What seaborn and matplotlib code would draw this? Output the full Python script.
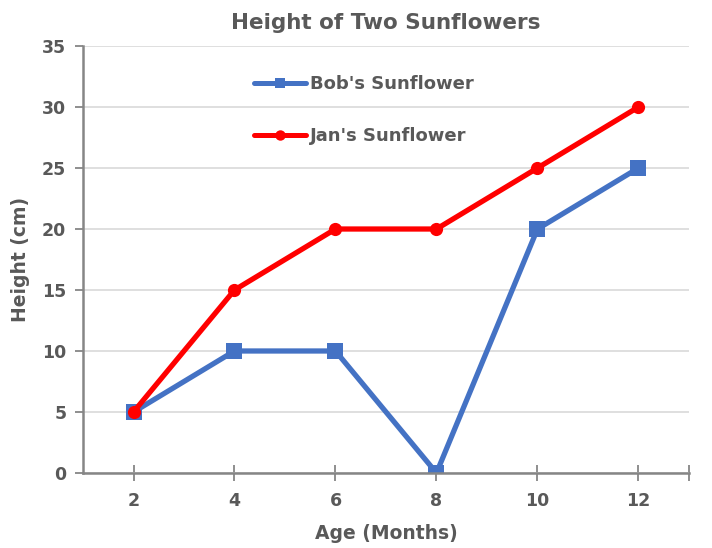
import numpy as np
import pandas as pd
import matplotlib
matplotlib.use("Agg")
import matplotlib.pyplot as plt
import seaborn as sns

# Data
ages = [2, 4, 6, 8, 10, 12]
bob_height = [5, 10, 10, 0, 20, 25]
jan_height = [5, 15, 20, 20, 25, 30]
series_names = ["Bob's Sunflower", "Jan's Sunflower"]

TEXT_GRAY = "#595959"
AXIS_GRAY = "#868686"

df = pd.DataFrame({
    "Age": ages * 2,
    "Height": bob_height + jan_height,
    "Plant": [series_names[0]] * len(ages) + [series_names[1]] * len(ages),
})

sns.set_theme(style="white")
plt.rcParams['font.family'] = ['DejaVu Sans']

fig = plt.figure(figsize=(7.12, 5.48), dpi=100)
ax = fig.add_axes([0.1166, 0.1369, 0.851, 0.7791])

sns.lineplot(
    data=df, x="Age", y="Height", hue="Plant", style="Plant",
    palette={series_names[0]: "#4472C4", series_names[1]: "#FF0000"},
    markers={series_names[0]: "s", series_names[1]: "o"},
    dashes=False, linewidth=3.8, markersize=10, markeredgewidth=0,
    ax=ax, legend=True,
)
# square markers a bit bigger than the circles
for line in ax.lines:
    if line.get_marker() == "s":
        line.set_markersize(11)
    elif line.get_marker() == "o":
        line.set_markersize(9.5)

ax.set_xlim(1, 13)
ax.set_ylim(0, 35)
ax.set_xticks(ages)
ax.set_xticklabels([str(a) for a in ages])
ax.set_xticks([13], minor=True)
ax.set_yticks(np.arange(0, 36, 5))
ax.yaxis.grid(True, color="#d9d9d9", linewidth=1.2)
ax.set_axisbelow(True)

for side in ["top", "right"]:
    ax.spines[side].set_visible(False)
for side in ["left", "bottom"]:
    ax.spines[side].set_color(AXIS_GRAY)
    ax.spines[side].set_linewidth(1.8)

ax.tick_params(axis="x", which="both", direction="inout", length=12, width=1.3,
               color=AXIS_GRAY, labelcolor=TEXT_GRAY, labelsize=12.5, pad=8, bottom=True)
ax.tick_params(axis="y", direction="out", length=6, width=1.3, color=AXIS_GRAY,
               labelcolor=TEXT_GRAY, labelsize=12.5, pad=6, left=True)
for lab in ax.get_xticklabels() + ax.get_yticklabels():
    lab.set_fontweight("bold")

ax.set_title("Height of Two Sunflowers", fontsize=15.5, fontweight="bold",
             color=TEXT_GRAY, pad=12)
ax.set_xlabel("Age (Months)", fontsize=13.5, fontweight="bold", color=TEXT_GRAY, labelpad=10)
ax.set_ylabel("Height (cm)", fontsize=13.5, fontweight="bold", color=TEXT_GRAY, labelpad=9)

leg = ax.legend(loc="upper left", bbox_to_anchor=(0.255, 0.97), frameon=False,
                labelspacing=1.9, handlelength=2.9, handletextpad=0.2,
                prop={"weight": "bold", "size": 13})
for t in leg.get_texts():
    t.set_color(TEXT_GRAY)
for h in leg.legend_handles:
    h.set_markersize(7.5)
    h.set_linewidth(3.6)

fig.savefig("out.png", dpi=100)
